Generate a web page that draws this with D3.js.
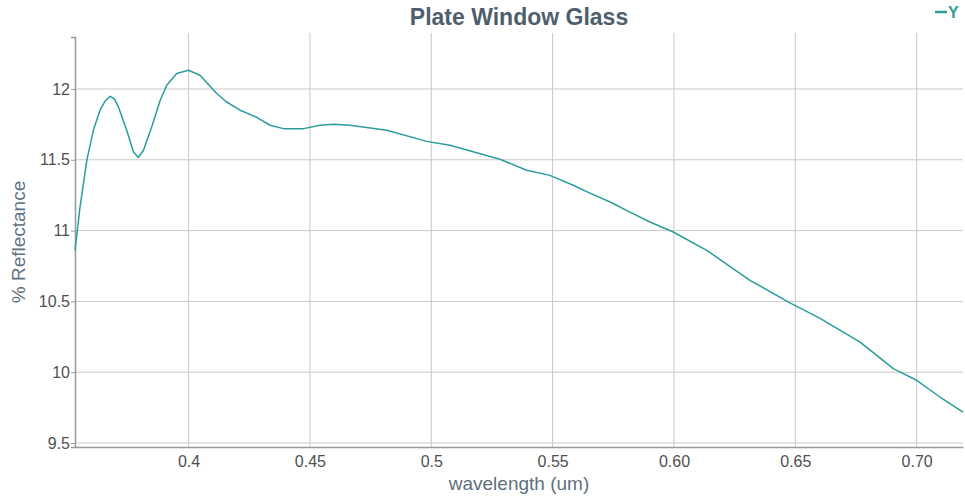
<!DOCTYPE html>
<html>
<head>
<meta charset="utf-8">
<script src="https://cdn.jsdelivr.net/npm/d3@7"></script>
<style>
  html, body { margin: 0; padding: 0; background: #fff; }
  svg { display: block; font-family: "Liberation Sans", Arial, sans-serif; }
</style>
</head>
<body>
<svg id="chart" width="965" height="500"></svg>
<script>
// Reflectance spectrum of plate window glass
const wavelength = [0.3532, 0.3553, 0.3581, 0.3608, 0.3635, 0.3656, 0.3677, 0.3694, 0.3711, 0.3745,
  0.3773, 0.3793, 0.3814, 0.3848, 0.3883, 0.3910, 0.3951, 0.3999, 0.4047, 0.4116,
  0.4157, 0.4212, 0.4281, 0.4336, 0.4391, 0.4473, 0.4542, 0.4597, 0.4665, 0.4817,
  0.4981, 0.5077, 0.5283, 0.5393, 0.5489, 0.5585, 0.5654, 0.5737, 0.5819, 0.5901,
  0.5997, 0.6135, 0.6313, 0.6478, 0.6602, 0.6767, 0.6904, 0.7000, 0.7096, 0.7191];
const reflectance = [10.86, 11.17, 11.50, 11.71, 11.85, 11.915, 11.948, 11.93, 11.873, 11.708,
  11.555, 11.516, 11.567, 11.732, 11.92, 12.026, 12.109, 12.132, 12.097, 11.968,
  11.908, 11.85, 11.80, 11.744, 11.72, 11.72, 11.744, 11.751, 11.744, 11.708,
  11.63, 11.602, 11.504, 11.426, 11.39, 11.32, 11.265, 11.202, 11.131, 11.061,
  10.99, 10.861, 10.649, 10.49, 10.38, 10.213, 10.025, 9.943, 9.825, 9.719];
const xTicks = [0.4, 0.45, 0.5, 0.55, 0.6, 0.65, 0.7];
const xTickLabels = ["0.4", "0.45", "0.5", "0.55", "0.60", "0.65", "0.70"];
const yTicks = [9.5, 10, 10.5, 11, 11.5, 12];
const yTickLabels = ["9.5", "10", "10.5", "11", "11.5", "12"];

const data = wavelength.map((w, i) => ({ w, r: reflectance[i] }));

const svg = d3.select("#chart");
const margin = { top: 37, right: 2, bottom: 53, left: 75 };
const width = 965 - margin.left - margin.right;
const height = 500 - margin.top - margin.bottom;

const x = d3.scaleLinear().domain([0.3532, 0.7191]).range([0, width]);
const y = d3.scaleLinear().domain([9.472, 12.367]).range([height, 0]);

const g = svg.append("g").attr("transform", `translate(${margin.left},${margin.top})`);

// grid
g.append("g").selectAll("line").data(xTicks).join("line")
  .attr("x1", d => x(d)).attr("x2", d => x(d))
  .attr("y1", -4).attr("y2", height)
  .attr("stroke", "#c8c8c8").attr("stroke-width", 1);
g.append("g").selectAll("line").data(yTicks).join("line")
  .attr("x1", 0).attr("x2", width)
  .attr("y1", d => y(d)).attr("y2", d => y(d))
  .attr("stroke", "#c8c8c8").attr("stroke-width", 1);

// axes
const tickFont = "'Liberation Sans', Arial, sans-serif";
const xAxis = g.append("g").attr("transform", `translate(0,${height})`)
  .call(d3.axisBottom(x).tickValues(xTicks).tickSize(0).tickPadding(9)
    .tickFormat((d, i) => xTickLabels[i]));
xAxis.select(".domain").attr("stroke", "#999").attr("stroke-width", 1.5);
xAxis.selectAll("text").attr("font-size", 16).attr("fill", "#505050")
  .attr("font-family", tickFont);

const yAxis = g.append("g")
  .call(d3.axisLeft(y).tickValues(yTicks).tickSize(4).tickPadding(1)
    .tickFormat((d, i) => yTickLabels[i]));
yAxis.select(".domain").attr("stroke", "#999").attr("stroke-width", 1.5);
yAxis.selectAll(".tick line").attr("stroke", "#999");
yAxis.selectAll("text").attr("font-size", 16).attr("fill", "#505050")
  .attr("font-family", tickFont);

// spectrum line
const line = d3.line().x(d => x(d.w)).y(d => y(d.r));
g.append("path").datum(data)
  .attr("fill", "none").attr("stroke", "#2a9d99").attr("stroke-width", 1.5)
  .attr("stroke-linejoin", "round")
  .attr("d", line);

// title
svg.append("text").attr("x", margin.left + width / 2).attr("y", 25)
  .attr("text-anchor", "middle").attr("font-size", 23).attr("font-weight", "bold")
  .attr("fill", "#4f5e6d").text("Plate Window Glass");

// axis titles
svg.append("text").attr("x", margin.left + width / 2).attr("y", 490)
  .attr("text-anchor", "middle").attr("font-size", 19).attr("fill", "#5f7080")
  .text("wavelength (um)");
svg.append("text")
  .attr("transform", `translate(25,${margin.top + height / 2}) rotate(-90)`)
  .attr("text-anchor", "middle").attr("font-size", 19).attr("fill", "#5f7080")
  .text("% Reflectance");

// legend
const lg = svg.append("g").attr("transform", "translate(935,12)");
lg.append("line").attr("x1", 0).attr("x2", 12).attr("y1", 0).attr("y2", 0)
  .attr("stroke", "#2a9d99").attr("stroke-width", 2.5);
lg.append("text").attr("x", 13).attr("y", 6).attr("font-size", 16)
  .attr("font-weight", "bold").attr("fill", "#2a9d99").text("Y");
</script>
</body>
</html>
